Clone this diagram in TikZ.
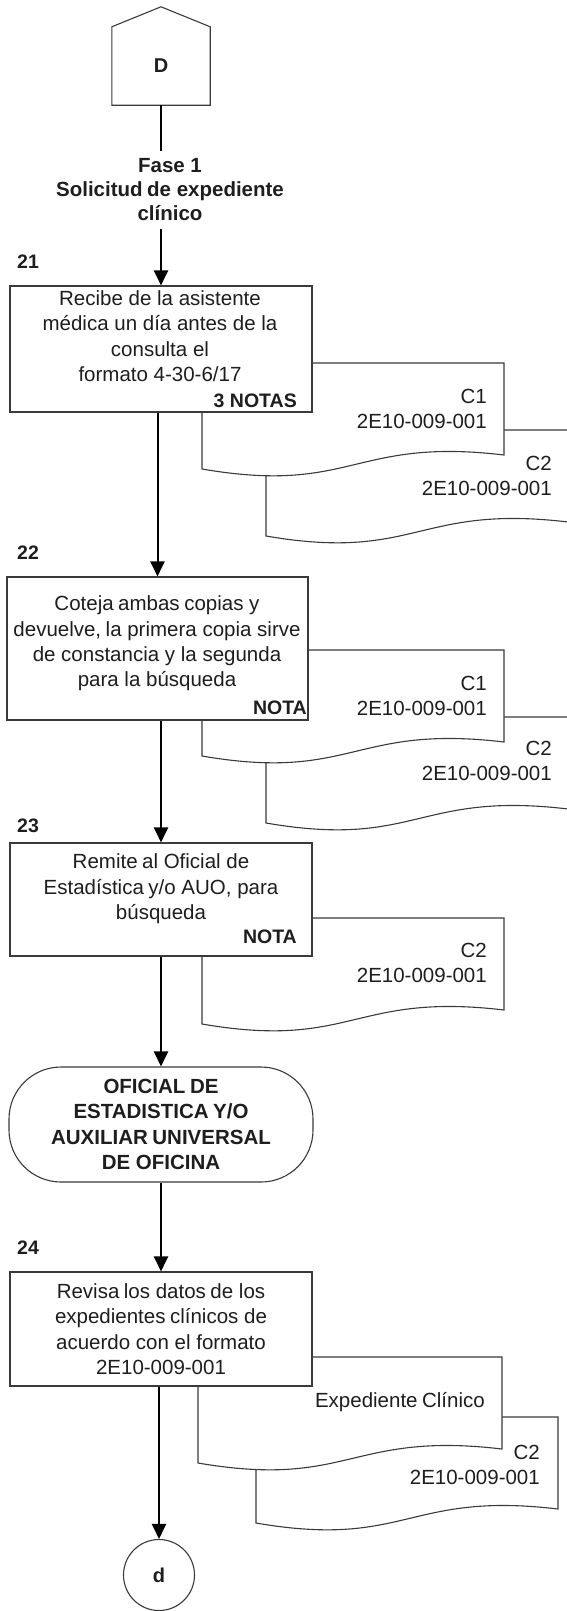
\documentclass[tikz,border=0pt]{standalone}
\usepackage{fontspec}
\setmainfont{Liberation Sans}
\usetikzlibrary{arrows.meta}
\definecolor{edge}{HTML}{3A3A3A}
\definecolor{ink}{HTML}{1E1E1E}
\newcommand\wsp{\hspace{0.22em}}
% document sheet with wavy bottom: left, top, right
\newcommand\docsheet[3]{%
  \draw[sheet] (#1,#2) -- (#3,#2) -- (#3,{#2+92})
    .. controls ({(#1+#3)/2},{#2+74}) and ({(#1+#3)/2},{#2+132}) .. (#1,{#2+106}) -- cycle;}
\begin{document}
\begin{tikzpicture}[x=1pt,y=-1pt,
  every node/.style={text=ink},
  body/.style={font=\fontsize{20.5}{25.4}\selectfont, align=center, inner sep=0pt},
  strong/.style={font=\fontsize{20.5}{25.4}\selectfont\bfseries, align=center, inner sep=0pt},
  tag/.style={font=\fontsize{19.5}{22}\selectfont\bfseries, inner sep=0pt},
  doctext/.style={font=\fontsize{20.5}{25}\selectfont, align=right, inner sep=0pt, anchor=east},
  stepbox/.style={draw=edge, line width=1.1pt, fill=white, minimum width=302pt, minimum height=#1, inner sep=0pt},
  terminal/.style={draw=edge, line width=1.1pt, fill=white, minimum width=304pt, minimum height=115pt, rounded corners=52pt, inner sep=0pt},
  sheet/.style={draw=edge, line width=1.1pt, fill=white},
  outline/.style={draw=edge, line width=1.1pt},
  flow/.style={draw=black, line width=2pt},
  arrow/.style={flow, -{Triangle[length=15pt,width=14pt]}},
]
\useasboundingbox (0,0) rectangle (567,1611);

% off-page connector D
\node[minimum width=98pt, minimum height=78pt, inner sep=0pt, font=\fontsize{20}{24}\selectfont\bfseries] (offD) at (161,66) {D};
\draw[outline] (offD.south west) -- (offD.north west) -- ([yshift=20pt]offD.north) -- (offD.north east) -- (offD.south east) -- cycle;

% phase title
\node[strong, font=\fontsize{20.5}{24}\selectfont\bfseries, inner ysep=8pt] (fase) at (170,190) {Fase 1\\Solicitud\wsp de expediente\\clínico};

% documents (drawn behind the step boxes)
\docsheet{266}{430}{568}
\node[doctext] (d21b) at (552,476) {C2\\2E10-009-001};
\docsheet{202}{363}{504}
\node[doctext] (d21a) at (487,409) {C1\\2E10-009-001};

\docsheet{266}{717}{568}
\node[doctext] (d22b) at (552,761) {C2\\2E10-009-001};
\docsheet{202}{650}{504}
\node[doctext] (d22a) at (487,696) {C1\\2E10-009-001};

\docsheet{202}{918}{504}
\node[doctext] (d23a) at (487,963) {C2\\2E10-009-001};

\docsheet{256}{1417}{558}
\node[doctext] (d24b) at (540,1465) {C2\\2E10-009-001};
\docsheet{198}{1357}{502}
\node[doctext] (d24a) at (485,1402) {Expediente\wsp Clínico};

% step 21
\node[tag, anchor=west] (s21) at (17,262) {21};
\node[stepbox=126pt] (b21) at (161,349) {};
\node[body] (t21) at (160,336) {Recibe de la asistente\\médica un día antes de la\\consulta el\\formato 4-30-6/17};
\node[tag, anchor=east] (n21) at (297,401) {3 NOTAS};

% step 22
\node[tag, anchor=west] (s22) at (17,553) {22};
\node[stepbox=143pt, minimum width=301pt] (b22) at (157.5,648.5) {};
\node[body] (t22) at (157,643.5) {Coteja\wsp ambas\wsp copias y\\devuelve,\wsp la primera copia sirve\\de constancia y la segunda\\para la búsqueda};
\node[tag, anchor=east] (n22) at (307,708) {NOTA};

% step 23
\node[tag, anchor=west] (s23) at (17,826) {23};
\node[stepbox=113pt] (b23) at (161,899.5) {};
\node[body] (t23) at (161,889) {Remite\wsp al Oficial de\\Estadística\wsp y/o AUO, para\\búsqueda};
\node[tag, anchor=east] (n23) at (297,937) {NOTA};

% responsible
\node[terminal, strong] (term) at (161,1124.5) {OFICIAL\wsp DE\\ESTADISTICA\wsp Y/O\\AUXILIAR\wsp UNIVERSAL\\DE OFICINA};

% step 24
\node[tag, anchor=west] (s24) at (17,1248) {24};
\node[stepbox=114pt, body] (b24) at (161,1329) {Revisa\wsp los datos\wsp de los\\expedientes\wsp clínicos de\\acuerdo con el formato\\2E10-009-001};

% on-page connector d
\node[circle, draw=edge, line width=1.1pt, fill=white, minimum size=71pt, inner sep=0pt, font=\fontsize{20}{24}\selectfont\bfseries] (dcon) at (159,1575) {d};

% flow
\draw[flow] (offD.south) -- (offD.south |- fase.north);
\draw[arrow] (fase.south -| b21.north) -- (b21.north);
\draw[arrow] (b21.south -| b22.north) -- (b22.north);
\draw[arrow] (b22.south -| b23.north) -- (b23.north);
\draw[arrow] (b23.south) -- (term.north);
\draw[arrow] (term.south) -- (b24.north);
\draw[arrow] (b24.south -| dcon.north) -- (dcon.north);
\end{tikzpicture}
\end{document}
